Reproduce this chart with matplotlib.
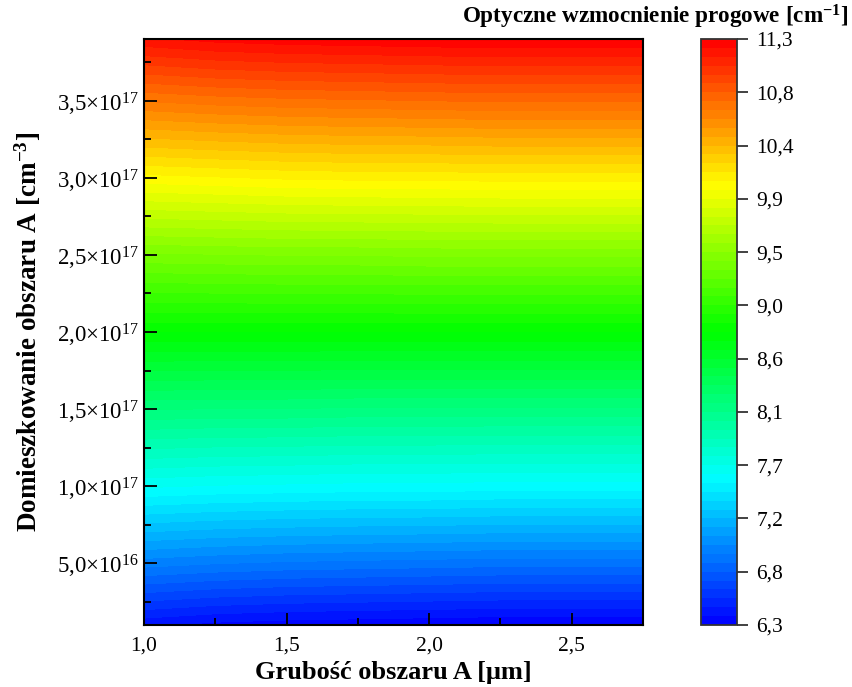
import numpy as np
import matplotlib.pyplot as plt
from matplotlib.colors import LinearSegmentedColormap

plt.rcParams['font.family'] = 'Liberation Serif'
plt.rcParams['mathtext.fontset'] = 'custom'
plt.rcParams['mathtext.rm'] = 'Liberation Serif'
plt.rcParams['mathtext.it'] = 'Liberation Serif:italic'
plt.rcParams['mathtext.bf'] = 'Liberation Serif:bold'

# Grid: thickness of region A [um] and doping of region A [cm^-3]
thickness = [1.0, 1.25, 1.5, 1.75, 2.0, 2.25, 2.5, 2.75]
doping = [0.1e17, 0.5e17, 1.0e17, 1.5e17, 2.0e17, 2.5e17, 3.0e17, 3.5e17, 3.9e17]

# Threshold optical gain [cm^-1], one row per doping value
gain = [
    [6.39, 6.35, 6.33, 6.32, 6.31, 6.30, 6.30, 6.30],
    [6.94, 6.91, 6.89, 6.88, 6.87, 6.86, 6.86, 6.86],
    [7.60, 7.58, 7.57, 7.56, 7.56, 7.55, 7.55, 7.55],
    [8.20, 8.19, 8.19, 8.18, 8.18, 8.18, 8.18, 8.18],
    [8.80, 8.80, 8.80, 8.80, 8.80, 8.80, 8.80, 8.80],
    [9.39, 9.40, 9.41, 9.41, 9.42, 9.42, 9.42, 9.42],
    [10.06, 10.08, 10.10, 10.11, 10.11, 10.12, 10.12, 10.12],
    [10.70, 10.73, 10.75, 10.76, 10.77, 10.78, 10.78, 10.78],
    [11.21, 11.25, 11.27, 11.28, 11.29, 11.30, 11.30, 11.30],
]

zmin, zmax = 6.3, 11.3
yticks = [0.5e17, 1.0e17, 1.5e17, 2.0e17, 2.5e17, 3.0e17, 3.5e17]
ytick_labels = ['5,0×10$^{16}$', '1,0×10$^{17}$', '1,5×10$^{17}$',
                '2,0×10$^{17}$', '2,5×10$^{17}$', '3,0×10$^{17}$',
                '3,5×10$^{17}$']
xticks = [1.0, 1.5, 2.0, 2.5]
xtick_labels = ['1,0', '1,5', '2,0', '2,5']

rainbow = LinearSegmentedColormap.from_list(
    'rainbow5', ['#0000ff', '#00ffff', '#00ff00', '#ffff00', '#ff0000'])

fig = plt.figure(figsize=(8.52, 6.87), dpi=100)
ax = fig.add_axes([144 / 852, 62 / 687, 499 / 852, 586 / 687])
cax = fig.add_axes([701 / 852, 62 / 687, 36 / 852, 586 / 687])

X, Y = np.meshgrid(thickness, doping)
levels = np.linspace(zmin, zmax, 67)
cs = ax.contourf(X, Y, np.array(gain), levels=levels, cmap=rainbow,
                 vmin=zmin, vmax=zmax, antialiased=False)

ax.set_xlim(1.0, 2.75)
ax.set_ylim(0.1e17, 3.9e17)
ax.set_xticks(xticks)
ax.set_xticklabels(xtick_labels)
ax.set_xticks([1.25, 1.75, 2.25], minor=True)
ax.set_yticks(yticks)
ax.set_yticklabels(ytick_labels, fontsize=16.5)
ax.set_yticks([0.25e17, 0.75e17, 1.25e17, 1.75e17, 2.25e17, 2.75e17, 3.25e17, 3.75e17], minor=True)
ax.tick_params(which='both', direction='in', width=1.3)
ax.tick_params(axis='x', labelsize=15.5, pad=8)
ax.tick_params(which='major', length=9)
ax.tick_params(which='minor', length=5)
for sp in ax.spines.values():
    sp.set_linewidth(1.5)

ax.set_xlabel('Grubość obszaru A [μm]', fontsize=19, fontweight='bold', labelpad=4)
ax.set_ylabel(r'Domieszkowanie obszaru A [cm$^{\mathbf{-3}}$]', fontsize=19.5,
              fontweight='bold', labelpad=10)

cb = fig.colorbar(cs, cax=cax)
cb.set_ticks(np.linspace(zmin, zmax, 12))
cb.set_ticklabels([f'{v:.1f}'.replace('.', ',') for v in np.linspace(zmin, zmax, 12)])
cax.tick_params(direction='out', length=8, width=1.3, color='#333333', labelsize=15.5, pad=6)
cb.outline.set_edgecolor('#333333')
cb.outline.set_linewidth(1.3)

fig.text(848 / 852, 1 - 17 / 687, r'Optyczne wzmocnienie progowe [cm$^{\mathbf{-1}}$]',
         ha='right', va='center', fontsize=16.7, fontweight='bold')

fig.savefig('out.png', dpi=100)
